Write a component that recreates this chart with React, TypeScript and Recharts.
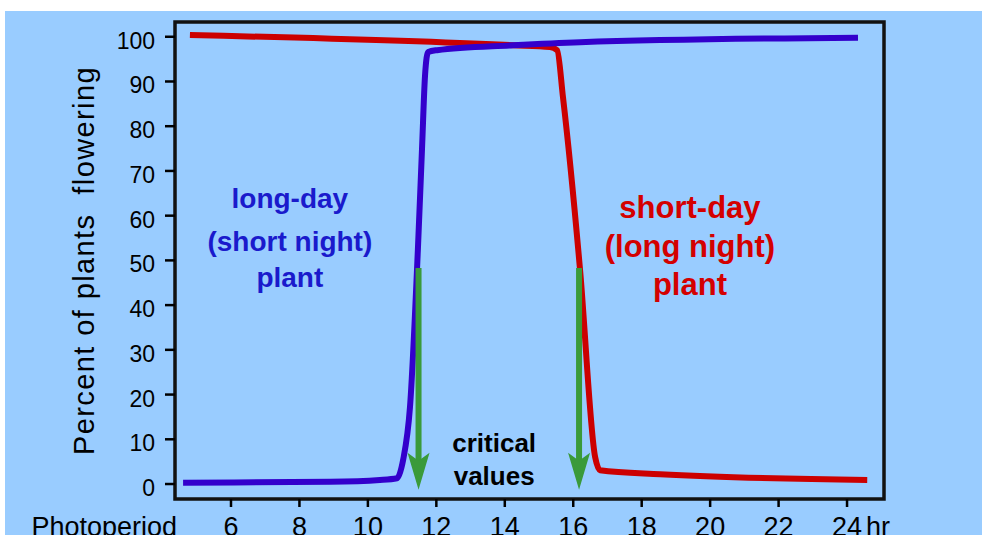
import React from "react";
import {
  LineChart,
  Line,
  XAxis,
  YAxis,
  ReferenceArea,
  ReferenceLine,
  ReferenceDot,
} from "recharts";

// long-day plant (blue curve)
const blueHours = [4.6, 8.9, 10.35, 10.85, 11.03, 11.23, 11.46, 11.58, 11.67, 11.76, 12.02, 14.24, 16.2, 24.32];
const bluePct = [0.3, 0.5, 0.9, 1.3, 5.4, 17.2, 52.3, 74.7, 91.4, 96.6, 97.0, 98.1, 98.8, 99.8];

// short-day plant (red curve)
const redHours = [4.8, 14.24, 15.32, 15.53, 15.7, 16.2, 16.64, 16.78, 18.54, 24.59];
const redPct = [100.4, 98.1, 97.7, 97.0, 86.5, 47.8, 6, 3.1, 2.2, 0.9];

// critical values (green arrows)
const criticalHours = [11.48, 16.17];

const xTicks = [6, 8, 10, 12, 14, 16, 18, 20, 22, 24];
const yTicks = [0, 10, 20, 30, 40, 50, 60, 70, 80, 90, 100];

const longDayLines = ["long-day", "(short night)", "plant"];
const shortDayLines = ["short-day", "(long night)", "plant"];
const criticalLines = ["critical", "values"];

const blueData = blueHours.map((x, i) => ({ x, y: bluePct[i] }));
const redData = redHours.map((x, i) => ({ x, y: redPct[i] }));

const FONT = "'Liberation Sans', Arial, Helvetica, sans-serif";
const BG = "#99ccff";
const BLUE = "#3300cc";
const RED = "#cc0000";
const GREEN = "#3a9a3a";

const X_DOMAIN: [number, number] = [4.364, 25.08];
const Y_DOMAIN: [number, number] = [-3.35, 103.3];

function XTick(props: any) {
  const { x, y, payload } = props;
  return (
    <g>
      <text x={x} y={y + 27} textAnchor="middle" fontSize={27} fontFamily={FONT} fill="#000">
        {payload.value}
      </text>
      {payload.value === 24 && (
        <text x={x + 19} y={y + 27} textAnchor="start" fontSize={27} fontFamily={FONT} fill="#000">
          hr
        </text>
      )}
    </g>
  );
}

function YTick(props: any) {
  const { x, y, payload } = props;
  return (
    <text x={x} y={y + 12} textAnchor="end" fontSize={23} fontFamily={FONT} fill="#000">
      {payload.value}
    </text>
  );
}

function YTitle(props: any) {
  const { viewBox } = props;
  const cx = viewBox.x + 84;
  const cy = viewBox.y + viewBox.height / 2;
  return (
    <text
      x={cx}
      y={cy}
      transform={`rotate(-90 ${cx} ${cy})`}
      textAnchor="middle"
      dominantBaseline="central"
      fontSize={29}
      letterSpacing={1.4}
      fontFamily={FONT}
      fill="#000"
      xmlSpace="preserve"
      style={{ whiteSpace: "pre" }}
    >
      Percent of plants  flowering
    </text>
  );
}

function XTitle(props: any) {
  const { viewBox } = props;
  return (
    <text x={viewBox.x + 2} y={viewBox.y + 37} textAnchor="end" fontSize={27} fontFamily={FONT} fill="#000">
      Photoperiod
    </text>
  );
}

const textShape = (value: string, color: string, size: number) => (p: any) =>
  (
    <text
      x={p.cx}
      y={p.cy}
      textAnchor="middle"
      dominantBaseline="central"
      fontSize={size}
      fontWeight="bold"
      fontFamily={FONT}
      fill={color}
    >
      {value}
    </text>
  );

const arrowHead = (p: any) => (
  <polygon
    points={`${p.cx},${p.cy} ${p.cx - 11},${p.cy - 37} ${p.cx},${p.cy - 29} ${p.cx + 11},${p.cy - 37}`}
    fill={GREEN}
  />
);

export default function App() {
  return (
    <div style={{ position: "absolute", left: 0, top: 0, width: 982, height: 535, background: "#fff", overflow: "hidden" }}>
      <div style={{ position: "absolute", left: 5, top: 11, right: 0, bottom: 0, background: BG }} />
      <div style={{ position: "absolute", left: 0, top: 0 }}>
        <LineChart width={982} height={535} margin={{ top: 22, right: 98, bottom: 0, left: 0 }}>
          <XAxis
            type="number"
            dataKey="x"
            domain={X_DOMAIN}
            ticks={xTicks}
            allowDataOverflow
            height={36}
            axisLine={false}
            tickSize={8}
            tickMargin={2}
            tickLine={{ stroke: "#000", strokeWidth: 2.5 }}
            tick={<XTick />}
            label={{ content: <XTitle /> }}
          />
          <YAxis
            type="number"
            dataKey="y"
            domain={Y_DOMAIN}
            ticks={yTicks}
            allowDataOverflow
            width={175}
            axisLine={false}
            tickSize={10}
            tickMargin={10}
            tickLine={{ stroke: "#000", strokeWidth: 2.5 }}
            tick={<YTick />}
            label={{ content: <YTitle /> }}
          />
          <ReferenceArea
            x1={X_DOMAIN[0]}
            x2={X_DOMAIN[1]}
            y1={Y_DOMAIN[0]}
            y2={Y_DOMAIN[1]}
            fill="none"
            stroke="#111"
            strokeWidth={3.5}
            ifOverflow="visible"
          />
          <Line
            data={redData}
            dataKey="y"
            type="monotone"
            stroke={RED}
            strokeWidth={6}
            dot={false}
            isAnimationActive={false}
          />
          <Line
            data={blueData}
            dataKey="y"
            type="monotone"
            stroke={BLUE}
            strokeWidth={6}
            dot={false}
            isAnimationActive={false}
          />
          {criticalHours.map((h) => (
            <ReferenceLine
              key={`s${h}`}
              segment={[
                { x: h, y: 48.3 },
                { x: h, y: 5 },
              ]}
              stroke={GREEN}
              strokeWidth={6}
            />
          ))}
          {criticalHours.map((h) => (
            <ReferenceDot key={`a${h}`} x={h} y={-1.3} r={1} shape={arrowHead} />
          ))}
          {longDayLines.map((t, i) => (
            <ReferenceDot key={t} x={7.72} y={[63.9, 54.3, 46.1][i]} r={1} shape={textShape(t, "#1a1acc", 28)} />
          ))}
          {shortDayLines.map((t, i) => (
            <ReferenceDot key={`r${t}`} x={19.41} y={[61.9, 53.2, 44.7][i]} r={1} shape={textShape(t, "#d40000", 31)} />
          ))}
          {criticalLines.map((t, i) => (
            <ReferenceDot key={t} x={13.69} y={[9.2, 1.8][i]} r={1} shape={textShape(t, "#000", 26)} />
          ))}
        </LineChart>
      </div>
    </div>
  );
}
